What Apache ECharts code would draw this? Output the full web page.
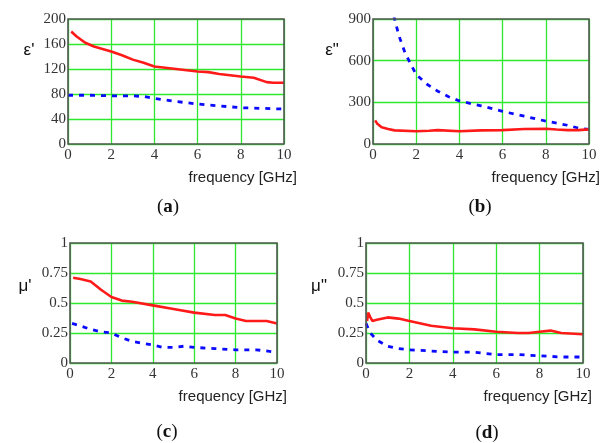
<!DOCTYPE html>
<html>
<head>
<meta charset="utf-8">
<script src="https://cdn.jsdelivr.net/npm/echarts@6/dist/echarts.min.js"></script>
<style>
  html, body { margin: 0; padding: 0; background: #fff; }
  #chart { width: 601px; height: 443px; }
</style>
</head>
<body>
<div id="chart"></div>
<script>
// frequency ticks shared by all panels
const freqTicks = [0, 2, 4, 6, 8, 10]

// (a) ε'
const aRedX = [0.15, 0.4, 0.8, 1.2, 2, 2.5, 3, 3.5, 4, 5, 6, 6.5, 7, 7.5, 8, 8.6, 9.2, 9.5, 10]
const aRedY = [180, 172, 162, 156, 148, 142, 135, 130, 124, 120, 116, 115, 112, 110, 108, 106, 99, 98, 98]
const aBlueX = [0, 1, 2, 3, 3.5, 4, 5, 6, 7, 8, 9, 10]
const aBlueY = [78, 78, 77, 77, 76, 73, 68, 64, 61, 58, 57, 56]

// (b) ε''
const bRedX = [0.1, 0.2, 0.4, 0.7, 1, 2, 2.6, 3, 4, 5, 6, 7, 8, 8.5, 9, 9.5, 10]
const bRedY = [170, 145, 120, 108, 98, 92, 95, 100, 92, 98, 100, 108, 110, 104, 100, 100, 105]
const bBlueX = [0.85, 1, 1.2, 1.5, 1.8, 2, 2.5, 3, 3.5, 4, 5, 6, 7, 8, 9, 9.5, 10]
const bBlueY = [1000, 900, 780, 650, 560, 500, 430, 380, 340, 310, 275, 235, 200, 165, 135, 115, 105]

// (c) μ'
const cRedX = [0.15, 0.5, 1, 1.5, 2, 2.5, 3, 4, 5, 6, 7, 7.5, 8, 8.5, 9, 9.5, 10]
const cRedY = [0.71, 0.70, 0.68, 0.61, 0.55, 0.52, 0.51, 0.48, 0.45, 0.42, 0.40, 0.40, 0.37, 0.35, 0.35, 0.35, 0.33]
const cBlueX = [0.1, 0.5, 1, 1.5, 2, 2.5, 3, 4, 4.5, 5, 5.5, 6, 7, 8, 9, 10]
const cBlueY = [0.33, 0.31, 0.28, 0.26, 0.25, 0.21, 0.18, 0.15, 0.13, 0.13, 0.14, 0.13, 0.12, 0.11, 0.11, 0.09]

// (d) μ''
const dRedX = [0.05, 0.1, 0.2, 0.3, 0.5, 1, 1.5, 2, 3, 4, 5, 6, 7, 7.5, 8, 8.5, 9, 10]
const dRedY = [0.35, 0.42, 0.38, 0.35, 0.36, 0.38, 0.37, 0.35, 0.31, 0.29, 0.28, 0.26, 0.25, 0.25, 0.26, 0.27, 0.25, 0.24]
const dBlueX = [0, 0.2, 0.5, 1, 1.5, 2, 3, 4, 5, 6, 7, 8, 9, 10]
const dBlueY = [0.33, 0.25, 0.19, 0.14, 0.12, 0.11, 0.10, 0.09, 0.09, 0.07, 0.07, 0.06, 0.05, 0.05]

// y tick labels per panel
const aYTicks = [0, 40, 80, 120, 160, 200]
const bYTicks = [0, 300, 600, 900]
const cYTicks = [0, 0.25, 0.5, 0.75, 1]
const dYTicks = [0, 0.25, 0.5, 0.75, 1]

const yNames = ["ε'", 'ε"', "μ'", 'μ"']
const panelLetters = ['a', 'b', 'c', 'd']
const xName = 'frequency [GHz]'

const RED = '#ff1a1a'
const BLUE = '#0a0aff'
const GRID_GREEN = '#2ee82e'
const serif = '"Liberation Serif", "DejaVu Serif", serif'
const sans = '"Liberation Sans", Arial, sans-serif'

const grids = [
  { left: 68, top: 19, width: 216, height: 125 },
  { left: 373, top: 19, width: 216, height: 125 },
  { left: 70, top: 243, width: 207, height: 120 },
  { left: 366, top: 243, width: 217, height: 120 }
]

const yTicks = [aYTicks, bYTicks, cYTicks, dYTicks]
const pairs = [
  [aRedX, aRedY, aBlueX, aBlueY],
  [bRedX, bRedY, bBlueX, bBlueY],
  [cRedX, cRedY, cBlueX, cBlueY],
  [dRedX, dRedY, dBlueX, dBlueY]
]

const zip = (xs, ys) => xs.map((x, i) => [x, ys[i]])

const chart = echarts.init(document.getElementById('chart'), null, { renderer: 'canvas' })

const xAxes = grids.map((g, i) => ({
  gridIndex: i,
  type: 'value',
  min: freqTicks[0],
  max: freqTicks[freqTicks.length - 1],
  interval: freqTicks[1] - freqTicks[0],
  axisLine: { show: false },
  axisTick: { show: false },
  axisLabel: { fontFamily: serif, fontSize: 15, color: '#333', margin: 4 },
  splitLine: { show: true, lineStyle: { color: GRID_GREEN, width: 1.3 } }
}))

const yAxes = grids.map((g, i) => {
  const t = yTicks[i]
  return {
    gridIndex: i,
    type: 'value',
    min: t[0],
    max: t[t.length - 1],
    interval: t[1] - t[0],
    axisLine: { show: false },
    axisTick: { show: false },
    axisLabel: { fontFamily: serif, fontSize: 15, color: '#333', margin: 2 },
    splitLine: { show: true, lineStyle: { color: GRID_GREEN, width: 1.3 } }
  }
})

const series = []
pairs.forEach((p, i) => {
  series.push({
    type: 'line',
    xAxisIndex: i,
    yAxisIndex: i,
    data: zip(p[2], p[3]),
    showSymbol: false,
    clip: true,
    lineStyle: { color: BLUE, width: 2.8, type: [5, 6] },
    z: 3
  })
  series.push({
    type: 'line',
    xAxisIndex: i,
    yAxisIndex: i,
    data: zip(p[0], p[1]),
    showSymbol: false,
    clip: true,
    lineStyle: { color: RED, width: 2.6 },
    z: 4
  })
})

// axis names and panel letters as plain text
const nameSpots = [[24, 45], [327, 45], [20, 281], [314, 281]]
const xNameSpots = [[297, 178], [600, 178], [287, 397], [592, 397]]
const letterSpots = [[168, 207], [480, 207], [167, 432], [487, 433]]

const titles = []
yNames.forEach((n, i) => {
  titles.push({
    text: n,
    left: nameSpots[i][0], top: nameSpots[i][1],
    textAlign: 'center', textVerticalAlign: 'middle',
    textStyle: { fontFamily: sans, fontSize: 17, fontWeight: 'normal', color: '#111' }
  })
})

const graphics = []
grids.forEach((g, i) => {
  graphics.push({
    type: 'rect',
    shape: { x: g.left, y: g.top, width: g.width, height: g.height },
    style: { fill: 'none', stroke: '#555', lineWidth: 1.6 },
    z: 10
  })
  graphics.push({
    type: 'text',
    x: xNameSpots[i][0], y: xNameSpots[i][1],
    style: { text: xName, font: '15px ' + sans, fill: '#222', textAlign: 'right', textVerticalAlign: 'middle' },
    z: 10
  })
  graphics.push({
    type: 'text',
    x: letterSpots[i][0], y: letterSpots[i][1],
    style: {
      text: '{p|(}{b|' + panelLetters[i] + '}{p|)}',
      textAlign: 'center', textVerticalAlign: 'middle',
      rich: {
        p: { font: '19px ' + serif, fill: '#111' },
        b: { font: 'bold 19px ' + serif, fill: '#111' }
      }
    },
    z: 10
  })
})

chart.setOption({
  animation: false,
  backgroundColor: '#fff',
  title: titles,
  grid: grids,
  xAxis: xAxes,
  yAxis: yAxes,
  series: series,
  graphic: graphics
})
</script>
</body>
</html>
